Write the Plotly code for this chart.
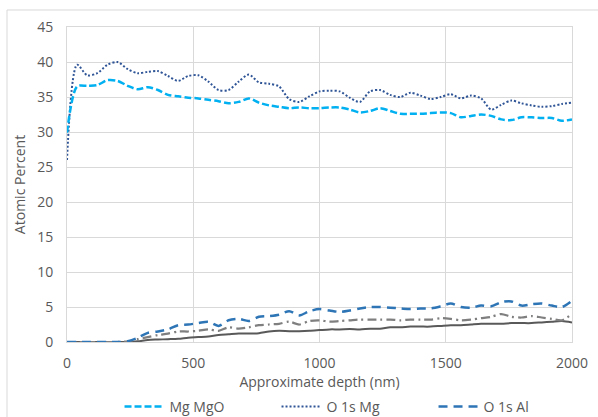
import plotly.graph_objects as go

depth = list(range(0, 2001, 40))

mg_mgo = [29.9, 36.5, 36.6, 36.7, 37.4, 37.3, 36.6, 36.1, 36.4, 36.0,
          35.3, 35.1, 34.9, 34.8, 34.6, 34.4, 34.1, 34.3, 34.8, 34.2,
          33.8, 33.6, 33.4, 33.5, 33.4, 33.4, 33.5, 33.5, 33.2, 32.8,
          33.0, 33.4, 33.0, 32.6, 32.6, 32.6, 32.7, 32.8, 32.7, 32.1,
          32.3, 32.5, 32.3, 31.8, 31.7, 32.1, 32.1, 32.0, 32.0, 31.6, 31.8]

o1s_mg = [26.0, 39.6, 38.1, 38.4, 39.6, 40.0, 39.0, 38.4, 38.6, 38.7,
          38.0, 37.3, 38.0, 38.1, 37.2, 36.0, 36.0, 37.2, 38.2, 37.1,
          36.9, 36.5, 34.7, 34.3, 35.1, 35.8, 35.9, 35.8, 34.9, 34.3,
          35.8, 36.0, 35.3, 35.0, 35.6, 35.2, 34.7, 35.0, 35.4, 34.8,
          35.2, 34.8, 33.2, 33.9, 34.5, 34.1, 33.8, 33.6, 33.7, 34.0, 34.2]

o1s_al = [0, 0, 0, 0, 0, 0, 0.1, 0.6, 1.3, 1.5,
          1.8, 2.4, 2.5, 2.7, 2.9, 2.3, 3.1, 3.3, 3.0, 3.6,
          3.7, 3.9, 4.4, 3.8, 4.4, 4.7, 4.5, 4.3, 4.5, 4.8,
          5.0, 5.0, 4.9, 4.8, 4.7, 4.8, 4.8, 5.1, 5.5, 5.0,
          4.9, 5.2, 5.1, 5.7, 5.8, 5.2, 5.4, 5.5, 5.2, 5.0, 5.9]

gray_dashdot = [0, 0, 0, 0, 0, 0, 0.1, 0.4, 0.7, 1.0,
                1.2, 1.5, 1.5, 1.6, 1.8, 1.6, 2.1, 1.9, 2.1, 2.4,
                2.5, 2.6, 2.9, 2.5, 3.0, 3.1, 2.9, 3.0, 3.1, 3.2,
                3.2, 3.2, 3.2, 3.1, 3.2, 3.2, 3.2, 3.4, 3.3, 3.1,
                3.2, 3.4, 3.6, 4.0, 3.6, 3.5, 3.7, 3.5, 3.3, 3.1, 4.0]

dark_solid = [0, 0, 0, 0, 0, 0, 0, 0.1, 0.3, 0.35,
              0.4, 0.45, 0.6, 0.7, 0.8, 1.0, 1.1, 1.2, 1.2, 1.25,
              1.5, 1.6, 1.55, 1.55, 1.6, 1.7, 1.8, 1.8, 1.85, 1.8,
              1.9, 1.9, 2.1, 2.1, 2.2, 2.2, 2.2, 2.3, 2.4, 2.4,
              2.5, 2.6, 2.6, 2.6, 2.7, 2.7, 2.7, 2.8, 2.9, 3.0, 2.8]

x_ticks = [0, 500, 1000, 1500, 2000]
y_ticks = [0, 5, 10, 15, 20, 25, 30, 35, 40, 45]

FONT = "Open Sans"
TXT = "#595959"
GRID = "#D9D9D9"

fig = go.Figure()

def add(y, name, color, dash, width=2.25, show=True):
    fig.add_trace(go.Scatter(
        x=depth, y=y, name=name, mode="lines",
        line=dict(color=color, dash=dash, width=width, shape="spline", smoothing=0.8),
        showlegend=show))

add(dark_solid, "Series 5", "#595959", "solid", 2, show=False)
add(gray_dashdot, "Series 4", "#7F7F7F", "9px,4px,2px,4px", 2.25, show=False)
add(o1s_al, "O 1s Al", "#2E75B6", "9px,6px", 2.5)
add(o1s_mg, "O 1s Mg", "#2F5597", "2px,2px", 2)
add(mg_mgo, "Mg MgO", "#00B0F0", "7px,3px", 2.5)

fig.update_layout(
    width=598, height=417,
    margin=dict(l=67, r=26, t=27, b=75, autoexpand=False),
    paper_bgcolor="white", plot_bgcolor="white",
    font=dict(family=FONT, size=14, color=TXT),
    legend=dict(orientation="h", x=0.104, xanchor="left", y=-0.206, yanchor="middle",
                traceorder="reversed", font=dict(size=14, color=TXT),
                entrywidth=102, entrywidthmode="pixels", itemwidth=40,
                bgcolor="rgba(0,0,0,0)"),
    xaxis=dict(range=[0, 2000], tickvals=x_ticks, showgrid=True, gridcolor=GRID,
               showline=True, linecolor=GRID, mirror=True, zeroline=False,
               ticks="", ticklabelstandoff=8,
               title=dict(text="Approximate depth (nm)", standoff=4, font=dict(size=14))),
    yaxis=dict(range=[0, 45], tickvals=y_ticks, showgrid=True, gridcolor=GRID,
               showline=True, linecolor=GRID, mirror=True, zeroline=False,
               ticks="", ticklabelstandoff=10,
               title=dict(text="Atomic Percent", standoff=8, font=dict(size=14))),
    shapes=[dict(type="rect", xref="paper", yref="paper",
                 x0=-0.1188, x1=1.07, y0=-0.27, y1=1.054,
                 line=dict(color=GRID, width=1), fillcolor="rgba(0,0,0,0)", layer="below")],
)

fig.write_html("out.html")
